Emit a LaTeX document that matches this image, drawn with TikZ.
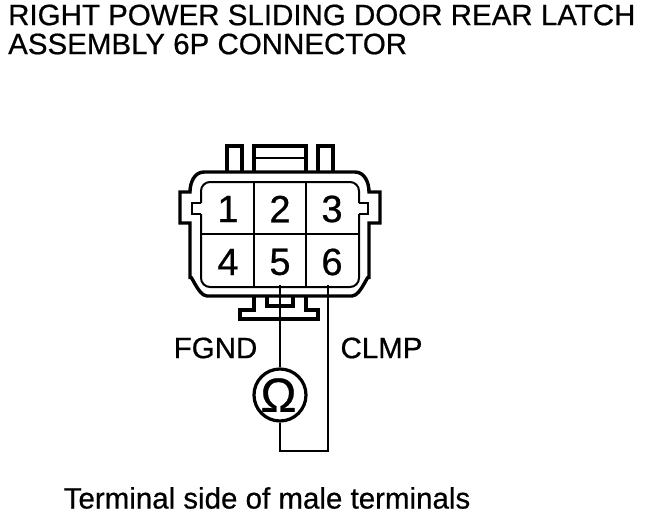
\documentclass[tikz,border=0pt]{standalone}
\usepackage{fontspec}
\setmainfont{Liberation Sans}
\newfontfamily\heavyfont[FakeBold=0.6]{Liberation Sans}
\usetikzlibrary{positioning}
\begin{document}
\begin{tikzpicture}[x=1pt,y=-1pt,
	wall/.style={line width=3.4pt,line join=miter},
	thin wall/.style={line width=2pt},
	pin/.style={font=\heavyfont\fontsize{38}{38}\selectfont,inner sep=0pt},
	lbl/.style={font=\heavyfont\fontsize{29.5}{30}\selectfont,inner sep=0pt},
	meter/.style={draw,circle,line width=3.2pt,minimum size=52pt,inner sep=0pt}]
\useasboundingbox (0,0) rectangle (672,516);
\node[lbl,anchor=west] (title1) at (8,15) {RIGHT POWER SLIDING DOOR REAR LATCH};
\node[lbl,anchor=west] (title2) at (8,44) {ASSEMBLY 6P CONNECTOR};
% shell
\draw[wall] (204,172) -- (355,172) to[out=0,in=90] (369,192) -- (380,192) -- (380,223) -- (369,223) -- (369,279)
	to[out=90,in=0] (352,296) -- (207,296) to[out=180,in=90] (190,279) -- (190,223) -- (180,223) -- (180,192) -- (190,192)
	to[out=90,in=180] (204,172) -- cycle;
% cavity
\draw[thin wall,rounded corners=9pt] (201,203) -- (201,182) -- (359,182) -- (359,203);
\draw[thin wall] (201,203) -- (192,203) -- (192,214) -- (201,214);
\draw[thin wall] (359,203) -- (368,203) -- (368,214) -- (359,214);
\draw[thin wall,rounded corners=9pt] (201,214) -- (201,287) -- (359,287) -- (359,214);
\draw[thin wall] (254,182) -- (254,287);
\draw[thin wall] (306,182) -- (306,287);
\draw[thin wall] (201,234) -- (359,234);
% tabs
\draw[wall] (227,172) -- (227,146) -- (242,146) -- (242,172);
\draw[wall] (318,172) -- (318,146) -- (333,146) -- (333,172);
\draw[wall] (254,172) -- (254,146) -- (306,146) -- (306,172);
\draw[thin wall] (254,158) -- (306,158);
% key
\draw[wall] (254,296) -- (254,310) -- (240,310) -- (240,319) -- (318,319) -- (318,310) -- (306,310) -- (306,296);
\draw[wall] (267,296) -- (267,306) -- (293,306) -- (293,296);
\node[pin] (1) at (228,209) {1};
\node[pin] (2) at (280,209) {2};
\node[pin] (3) at (332,209) {3};
\node[pin] (4) at (228,262) {4};
\node[pin] (5) at (280,262) {5};
\node[pin] (6) at (332,262) {6};
\node[lbl] (fgnd) at (215.5,348) {FGND};
\node[lbl] (clmp) at (381.5,348) {CLMP};
\node[meter,font=\heavyfont\fontsize{48}{48}\selectfont] (ohm) at (280,395) {\kern-3pt Ω};
\node[lbl] (side) at (267,498) {Terminal side of male terminals};
\coordinate (fgndpin) at (280,285);
\coordinate (clmppin) at (328,285);
\coordinate (loop) at (280,451);
\coordinate (corner) at (328,451);
\draw[thin wall] (fgndpin) to (ohm);
\draw[thin wall,line join=miter] (ohm) to (loop) to (corner) to (clmppin);
\end{tikzpicture}
\end{document}
